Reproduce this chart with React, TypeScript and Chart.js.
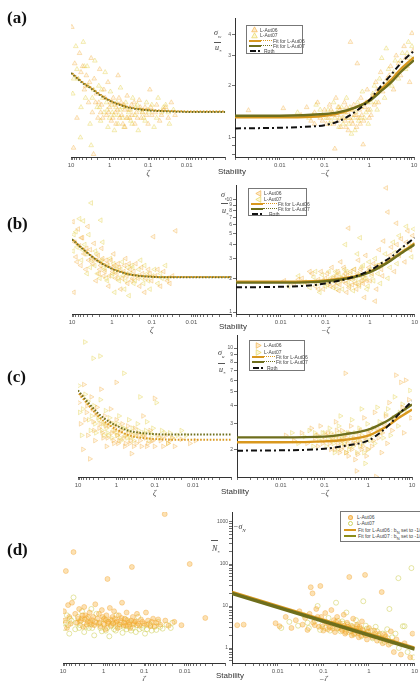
import React, { useEffect, useRef } from 'react';
import { Chart, registerables } from 'chart.js';
Chart.register(...registerables);

type P = [number, number];

// ---------- tick labels ----------
const xLabelsLeft = [10, 1, 0.1, 0.01];
const xLabelsRight = [0.01, 0.1, 1, 10];
const xDecades = [0.001, 0.01, 0.1, 1];
const subTicks = [1, 2, 3, 4, 5, 6, 7, 8, 9];
const aYTicks = [0.8, 0.9, 1, 2, 3, 4];
const aYLabels = [1, 2, 3, 4];
const bYTicks = [1, 2, 3, 4, 5, 6, 7, 8, 9, 10];
const bYLabels = [1, 2, 3, 4, 5, 6, 7, 8, 9, 10];
const cYTicks = [2, 3, 4, 5, 6, 7, 8, 9, 10];
const cYLabels = [2, 3, 4, 5, 6, 7, 8, 9, 10];
const dYDecades = [0.1, 1, 10, 100];
const dYLabels = [1, 10, 100, 1000];

// ---------- panel (a) ----------
const aLeft06: P[] = [[9.5,4.4],[8,2.7],[7,1.3],[6,3.1],[5,2.6],[4.5,1.9],[4,2.3],[3.5,1.6],[3,2.9],[2.8,1.4],[2.5,2.2],[2.2,1.8],[2,1.3],[1.8,2.5],[1.6,1.55],[1.4,1.9],[1.2,1.35],[1.1,2.1],[1,1.5],[0.9,1.25],[0.8,1.7],[0.7,1.4],[0.6,2.3],[0.55,1.3],[0.5,1.6],[0.45,1.2],[0.4,1.45],[0.35,1.75],[0.3,1.3],[0.27,1.55],[0.22,1.2],[0.2,1.4],[0.17,1.65],[0.15,1.3],[0.12,1.5],[0.1,1.2],[0.09,1.9],[0.08,1.35],[0.06,1.55],[0.05,1.25],[0.04,1.45],[0.03,1.3],[0.025,1.6],[0.02,1.35],[8.6,0.87],[2.6,0.8],
  [1.9,1.6],[1.7,1.4],[1.3,1.7],[1.05,1.4],[0.95,1.6],[0.82,1.3],[0.72,1.55],[0.62,1.45],[0.57,1.7],[0.48,1.35],[0.43,1.55],[0.36,1.3],[0.31,1.45],[0.26,1.35],[0.23,1.6],[0.19,1.3],[0.16,1.5],[0.14,1.4],[0.11,1.35],[0.085,1.5],[0.065,1.4],[0.045,1.35],[0.035,1.5],[3.3,2.1],[4.2,2.0],[5.5,2.4],[2.3,1.6],[1.5,1.3],[0.68,1.2],[0.4,1.15]];
const aLeft07: P[] = [[9,1.8],[7.5,3.4],[6.5,2.2],[5.5,1.5],[4.8,3.6],[4.2,1.7],[3.8,2.6],[3.2,1.2],[2.6,1.9],[2.4,2.8],[2.1,1.5],[1.9,2.0],[1.7,1.25],[1.5,1.7],[1.3,2.4],[1.15,1.45],[0.95,1.85],[0.85,1.4],[0.75,1.1],[0.65,1.6],[0.58,1.35],[0.52,1.95],[0.47,1.5],[0.42,1.15],[0.38,1.6],[0.32,1.4],[0.28,1.25],[0.25,1.7],[0.21,1.5],[0.18,1.1],[0.16,1.45],[0.13,1.3],[0.11,1.6],[0.095,1.4],[0.07,1.15],[0.055,1.7],[0.045,1.4],[0.035,1.55],[0.028,1.2],[0.022,1.45],[5.7,1.0],[3,0.9],
  [1.8,1.5],[1.6,1.9],[1.4,1.4],[1.2,1.6],[1.0,1.3],[0.88,1.55],[0.78,1.35],[0.68,1.5],[0.6,1.2],[0.53,1.45],[0.46,1.3],[0.39,1.5],[0.34,1.3],[0.29,1.45],[0.26,1.2],[0.22,1.35],[0.19,1.55],[0.14,1.4],[0.12,1.25],[0.1,1.45],[0.08,1.55],[0.06,1.3],[0.04,1.5],[0.03,1.4],[2.8,1.7],[3.6,2.0],[4.5,2.6],[7,2.5],[8.5,2.2],[1.1,1.15]];
const aRight06: P[] = [[0.002,1.44],[0.012,1.48],[0.03,1.35],[0.04,1.5],[0.05,1.25],[0.06,1.4],[0.07,1.6],[0.08,1.3],[0.1,1.45],[0.11,1.2],[0.13,1.55],[0.15,1.35],[0.17,0.86],[0.18,1.7],[0.2,1.25],[0.22,1.45],[0.25,1.3],[0.28,1.6],[0.3,1.15],[0.33,1.4],[0.38,3.6],[0.4,1.25],[0.45,1.55],[0.5,1.35],[0.54,2.7],[0.6,1.45],[0.65,1.7],[0.73,0.91],[0.8,1.5],[0.9,1.9],[1,1.3],[1.2,1.75],[1.4,2.1],[1.6,1.6],[1.8,2.4],[2,1.85],[2.5,2.2],[3,2.6],[3.5,1.9],[4,3.0],[5,2.3],[6,3.4],[7,2.6],[8,2.1],[9,4.05],[9.5,3.2],
  [0.12,1.3],[0.14,1.45],[0.16,1.2],[0.19,1.35],[0.21,1.5],[0.23,1.15],[0.26,1.4],[0.29,1.25],[0.31,1.5],[0.34,1.1],[0.36,1.3],[0.39,1.45],[0.43,1.2],[0.46,1.35],[0.52,1.15],[0.57,1.3],[0.63,1.2],[0.68,1.35],[0.75,1.25],[0.85,1.6],[0.95,1.45],[1.1,1.35],[1.3,1.55],[1.5,1.9],[2.2,2.0],[2.8,2.3],[4.5,2.7],[6.5,2.9],[0.09,1.25],[0.06,1.2]];
const aRight07: P[] = [[0.025,1.4],[0.045,1.3],[0.065,1.55],[0.09,1.35],[0.12,1.45],[0.14,1.25],[0.16,1.6],[0.19,1.4],[0.21,1.15],[0.24,1.5],[0.27,1.3],[0.31,1.7],[0.35,1.2],[0.42,1.45],[0.48,1.1],[0.55,1.6],[0.62,1.3],[0.7,1.85],[0.85,1.4],[0.95,1.2],[1.1,1.6],[1.3,2.0],[1.5,1.45],[1.7,2.2],[2.2,1.7],[2.7,2.5],[3.2,2.0],[3.8,2.8],[4.5,2.2],[5.5,3.1],[6.5,2.5],[7.5,3.6],[8.5,2.9],[2.4,3.3],[1.9,2.9],
  [0.11,1.3],[0.13,1.2],[0.15,1.4],[0.17,1.3],[0.2,1.5],[0.22,1.3],[0.26,1.2],[0.29,1.4],[0.33,1.3],[0.37,1.5],[0.4,1.05],[0.44,1.3],[0.5,1.4],[0.58,1.25],[0.66,1.5],[0.78,1.3],[0.9,1.6],[1.05,1.45],[1.2,1.8],[1.4,1.6],[1.8,1.95],[2.6,2.1],[3.5,2.4],[5,2.8],[7,3.1],[9,3.4],[0.08,1.45],[0.055,1.35]];
const aFitLeft06: P[] = [[10,2.4],[5,2.1],[3,1.95],[2,1.82],[1,1.65],[0.5,1.55],[0.3,1.5],[0.1,1.45],[0.03,1.43],[0.01,1.42],[0.001,1.42]];
const aFitLeft07: P[] = [[10,2.38],[5,2.08],[3,1.93],[2,1.8],[1,1.64],[0.5,1.54],[0.3,1.49],[0.1,1.44],[0.03,1.42],[0.01,1.41],[0.001,1.41]];
const aFitRight06: P[] = [[0.001,1.31],[0.01,1.31],[0.05,1.32],[0.1,1.34],[0.2,1.38],[0.5,1.5],[1,1.65],[2,1.95],[3,2.15],[5,2.5],[10,2.94]];
const aFitRight07: P[] = [[0.001,1.34],[0.01,1.34],[0.1,1.37],[0.2,1.4],[0.5,1.5],[1,1.63],[2,1.9],[3,2.08],[5,2.4],[10,2.82]];
const aRoth: P[] = [[0.001,1.13],[0.01,1.14],[0.05,1.16],[0.1,1.18],[0.2,1.24],[0.5,1.42],[1,1.65],[2,2.05],[3,2.3],[5,2.7],[10,3.2]];

// ---------- panel (b) ----------
const bLeft06: P[] = [[9.5,6.4],[8.5,4.2],[8,3.1],[7,5.5],[6,2.6],[5.5,4.6],[5,3.3],[4.5,2.4],[4,5.8],[3.5,3.6],[3,2.7],[2.8,4.1],[2.5,1.9],[2.2,3.2],[2,2.4],[1.8,3.7],[1.6,2.1],[1.4,2.9],[1.2,1.7],[1,2.5],[0.9,3.3],[0.8,2.0],[0.7,2.7],[0.6,1.6],[0.5,2.3],[0.45,3.0],[0.4,1.8],[0.35,2.4],[0.3,2.0],[0.25,2.7],[0.2,1.7],[0.17,2.2],[0.15,1.5],[0.12,2.4],[0.1,1.9],[0.09,4.7],[0.08,2.1],[0.06,1.7],[0.05,2.3],[0.04,1.9],[0.03,2.1],[0.025,5.3],[9,1.5],
  [2.4,2.9],[2.1,2.2],[1.9,2.6],[1.7,3.0],[1.5,2.3],[1.3,2.7],[1.15,2.1],[1.05,2.9],[0.95,2.3],[0.85,2.6],[0.75,2.2],[0.65,2.5],[0.55,2.0],[0.48,2.6],[0.42,2.1],[0.37,2.7],[0.32,1.9],[0.28,2.3],[0.22,2.0],[0.18,2.5],[0.14,2.0],[0.11,2.2],[3.2,3.0],[3.8,2.9],[4.3,3.7],[6.5,3.9],[7.5,2.8],[5.8,4.6],[0.07,2.4],[0.035,1.8]];
const bLeft07: P[] = [[9,4.9],[7.5,3.8],[6.5,6.8],[5.8,2.9],[4.8,4.0],[4.2,2.2],[3.8,4.9],[3.2,2.9],[2.6,3.5],[2.3,2.2],[1.9,2.8],[1.7,4.2],[1.5,2.4],[1.3,1.9],[1.1,3.0],[0.95,2.2],[0.85,1.5],[0.75,2.5],[0.65,1.9],[0.55,2.8],[0.48,1.6],[0.42,2.2],[0.37,1.4],[0.32,2.6],[0.28,1.8],[0.23,2.1],[0.19,2.9],[0.16,1.8],[0.13,2.2],[0.11,1.6],[0.085,2.4],[0.07,1.8],[0.055,2.0],[0.045,2.6],[3.3,9.4],[1.9,6.6],[5.2,6.5],
  [2.7,2.6],[2.4,3.3],[2.0,2.0],[1.8,2.9],[1.6,2.5],[1.4,2.0],[1.25,2.6],[1.0,2.1],[0.9,2.7],[0.8,2.3],[0.7,2.0],[0.6,2.4],[0.52,2.1],[0.45,1.9],[0.4,2.5],[0.34,2.2],[0.3,2.5],[0.26,1.9],[0.21,2.4],[0.17,2.0],[0.15,2.6],[0.12,1.9],[0.095,2.1],[3.5,2.5],[4.5,3.3],[5.5,3.6],[8,5.2],[9.5,3.5],[0.06,2.2],[0.04,2.0]];
const bRight06: P[] = [[0.012,1.9],[0.02,1.75],[0.03,2.0],[0.04,1.8],[0.05,2.2],[0.06,1.7],[0.07,1.95],[0.08,2.3],[0.09,1.6],[0.1,2.0],[0.12,1.8],[0.14,2.5],[0.16,1.7],[0.18,2.1],[0.2,1.55],[0.22,2.8],[0.25,1.9],[0.28,2.2],[0.3,1.5],[0.33,5.6],[0.35,2.0],[0.4,1.75],[0.45,2.4],[0.5,1.6],[0.55,2.9],[0.6,2.1],[0.7,1.8],[0.8,3.2],[0.9,2.3],[1,1.9],[1.2,2.7],[1.4,1.6],[1.6,3.6],[1.8,2.4],[2,4.3],[2.3,12.8],[2.5,2.9],[2.5,7.8],[3,3.8],[3.5,2.3],[3.9,6.2],[4.5,3.2],[5,4.5],[6,2.8],[7,5.3],[8,3.6],[9,4.8],[1.3,1.25],[0.75,1.35],
  [0.11,2.2],[0.13,1.7],[0.15,2.0],[0.17,1.85],[0.19,2.3],[0.21,1.75],[0.23,2.0],[0.26,2.5],[0.29,1.8],[0.31,2.1],[0.34,1.65],[0.37,2.3],[0.42,2.0],[0.47,1.8],[0.52,2.2],[0.57,1.75],[0.62,2.4],[0.67,1.9],[0.72,2.15],[0.85,1.9],[0.95,2.5],[1.1,2.2],[1.5,2.6],[1.9,2.1],[2.8,3.2],[4,4.0],[6.5,4.2],[0.07,1.6],[0.045,2.3],[0.025,1.95]];
const bRight07: P[] = [[0.015,1.7],[0.025,2.1],[0.035,1.85],[0.045,1.65],[0.055,2.05],[0.065,1.8],[0.075,1.5],[0.085,2.15],[0.11,1.75],[0.13,2.0],[0.15,1.65],[0.17,2.3],[0.19,1.8],[0.21,2.0],[0.24,1.6],[0.27,2.4],[0.32,1.85],[0.37,2.2],[0.42,1.55],[0.48,2.0],[0.52,3.3],[0.58,1.7],[0.65,2.5],[0.75,2.0],[0.85,1.6],[0.95,2.8],[1.1,2.1],[1.3,3.0],[1.5,2.2],[1.7,1.8],[2.2,3.3],[2.8,2.5],[3.3,4.2],[4,2.7],[5.5,3.7],[6.5,5.8],[8.5,3.1],[0.28,4.0],[0.6,4.6],
  [0.1,1.7],[0.12,2.3],[0.14,1.9],[0.16,2.1],[0.18,1.6],[0.2,2.2],[0.22,1.9],[0.25,2.1],[0.3,2.3],[0.35,1.7],[0.39,1.95],[0.44,2.4],[0.5,1.8],[0.55,2.15],[0.63,1.9],[0.7,2.6],[0.8,2.0],[0.9,1.7],[1.0,2.4],[1.2,1.9],[1.4,2.6],[1.8,2.7],[2.5,2.0],[3.6,3.4],[4.5,4.8],[7.5,4.0],[9.5,5.5],[0.09,1.9],[0.06,2.3],[0.03,1.8]];
const bFitLeft06: P[] = [[10,4.5],[5,3.6],[3,3.1],[2,2.8],[1,2.45],[0.5,2.25],[0.3,2.15],[0.1,2.07],[0.03,2.05],[0.001,2.05]];
const bFitLeft07: P[] = [[10,4.45],[5,3.57],[3,3.08],[2,2.78],[1,2.43],[0.5,2.23],[0.3,2.14],[0.1,2.06],[0.03,2.04],[0.001,2.04]];
const bFitRight06: P[] = [[0.001,1.86],[0.01,1.86],[0.05,1.88],[0.1,1.91],[0.2,1.97],[0.5,2.1],[1,2.3],[2,2.65],[3,2.95],[5,3.4],[10,4.1]];
const bFitRight07: P[] = [[0.001,1.83],[0.01,1.83],[0.05,1.85],[0.1,1.88],[0.2,1.94],[0.5,2.07],[1,2.27],[2,2.62],[3,2.9],[5,3.35],[10,4.0]];
const bRoth: P[] = [[0.001,1.66],[0.01,1.68],[0.05,1.73],[0.1,1.8],[0.2,1.9],[0.5,2.1],[1,2.35],[2,2.8],[3,3.1],[5,3.7],[10,4.6]];

// ---------- panel (c) ----------
const cLeft06: P[] = [[9.5,4.2],[8.5,3.0],[7.4,2.0],[7,5.6],[6,3.6],[5.5,2.5],[4.9,1.72],[4.5,4.6],[4,3.1],[3.6,2.3],[3.2,3.9],[2.8,2.8],[2.5,5.2],[2.2,2.4],[2,3.4],[1.8,2.1],[1.6,2.9],[1.4,3.8],[1.2,2.3],[1.1,2.7],[1,3.2],[0.9,2.2],[0.8,2.6],[0.7,3.0],[0.6,2.1],[0.55,2.5],[0.5,2.9],[0.45,2.2],[0.4,1.87],[0.37,2.5],[0.33,2.8],[0.3,2.2],[0.25,2.5],[0.22,2.1],[0.2,3.4],[0.17,2.4],[0.15,2.2],[0.13,2.7],[0.11,2.3],[0.1,2.1],[0.085,2.5],[0.07,2.3],[0.06,2.1],[0.05,2.5],[0.04,2.3],[0.03,2.1],[0.02,2.35],[0.012,2.2],[0.0085,2.3],[0.1,4.5],[1,5.8],
  [2.6,3.0],[2.3,2.6],[1.9,2.9],[1.7,2.4],[1.5,3.1],[1.3,2.6],[1.15,2.2],[1.05,2.9],[0.95,2.5],[0.85,2.3],[0.75,2.7],[0.65,2.4],[0.57,2.2],[0.48,2.6],[0.42,2.3],[0.35,2.1],[0.28,2.6],[0.24,2.3],[0.19,2.5],[0.16,2.1],[0.12,2.3],[3.4,3.5],[3.8,2.7],[4.2,3.8],[5.8,4.0],[6.5,3.2],[8,4.7],[0.065,2.4],[0.045,2.2],[0.035,2.4]];
const cLeft07: P[] = [[9,3.6],[8,2.5],[6.6,11.0],[6.5,4.8],[5.2,3.2],[4.7,2.7],[4,8.5],[3.8,4.0],[3.4,2.6],[3,3.3],[2.65,8.8],[2.6,4.4],[2.3,3.0],[2.1,2.5],[1.9,3.7],[1.7,2.6],[1.5,3.3],[1.3,2.4],[1.15,3.0],[0.95,2.5],[0.85,3.4],[0.75,2.3],[0.63,6.7],[0.62,2.8],[0.52,2.4],[0.47,3.2],[0.42,2.6],[0.35,2.3],[0.28,3.0],[0.24,4.6],[0.19,2.6],[0.16,3.1],[0.14,2.3],[0.12,2.5],[0.09,4.2],[0.075,2.4],[0.055,2.6],[0.045,2.2],[0.035,2.4],[0.015,2.5],
  [2.8,3.2],[2.4,2.7],[2.0,3.0],[1.8,2.8],[1.6,2.5],[1.4,3.0],[1.2,2.7],[1.0,2.6],[0.9,3.0],[0.8,2.4],[0.7,2.8],[0.6,2.5],[0.5,2.7],[0.45,2.4],[0.38,2.8],[0.32,2.5],[0.26,2.7],[0.21,2.5],[0.17,2.7],[0.13,2.6],[0.11,2.8],[3.6,3.0],[4.4,3.4],[5.5,4.3],[7.5,3.8],[9.5,5.5],[0.065,2.7],[0.04,2.6],[0.025,2.5],[0.02,2.7]];
const cRight06: P[] = [[0.013,2.5],[0.02,2.3],[0.03,2.6],[0.04,2.2],[0.05,2.8],[0.06,2.4],[0.07,2.1],[0.08,2.9],[0.1,2.3],[0.12,2.6],[0.14,2.0],[0.16,2.5],[0.18,3.1],[0.2,2.2],[0.22,1.9],[0.25,2.7],[0.28,2.1],[0.3,6.7],[0.32,2.4],[0.35,1.8],[0.4,2.9],[0.45,2.2],[0.5,1.7],[0.54,1.42],[0.6,2.5],[0.7,2.0],[0.8,3.3],[0.9,1.8],[1,2.6],[1.2,2.1],[1.4,3.6],[1.5,1.3],[1.7,2.4],[2,1.9],[2.3,3.0],[2.7,2.2],[3,4.2],[3.5,2.7],[4.3,6.5],[5,3.4],[5.6,5.8],[6.5,2.6],[7.2,6.0],[8.5,4.4],[9.5,3.3],
  [0.11,2.5],[0.13,2.2],[0.15,2.4],[0.17,2.0],[0.19,2.7],[0.21,2.4],[0.24,2.0],[0.26,2.3],[0.29,2.5],[0.31,1.9],[0.34,2.2],[0.37,2.6],[0.42,2.0],[0.47,2.4],[0.52,2.2],[0.57,1.85],[0.63,2.3],[0.67,2.7],[0.75,2.1],[0.85,2.4],[0.95,2.0],[1.1,2.7],[1.3,2.3],[1.6,2.8],[2.1,2.6],[2.5,3.4],[3.8,3.3],[6,3.9],[0.09,2.2],[0.07,2.5]];
const cRight07: P[] = [[0.018,2.6],[0.025,2.2],[0.035,2.45],[0.045,2.7],[0.055,2.1],[0.065,2.5],[0.075,2.3],[0.09,2.6],[0.11,2.1],[0.13,2.8],[0.15,2.3],[0.17,1.9],[0.19,2.5],[0.21,2.9],[0.24,2.2],[0.27,2.5],[0.31,1.9],[0.34,2.6],[0.38,2.1],[0.42,3.2],[0.48,2.3],[0.55,1.9],[0.62,2.8],[0.75,2.2],[0.85,1.6],[0.95,3.0],[1.1,2.3],[1.3,2.8],[1.6,3.9],[1.9,2.6],[2.5,3.5],[3.2,2.5],[4,4.6],[4.8,2.9],[6,4.1],[7.5,3.6],[9,5.1],[0.7,3.8],[0.23,3.4],
  [0.1,2.6],[0.12,2.4],[0.14,2.6],[0.16,2.2],[0.18,2.4],[0.2,2.0],[0.22,2.6],[0.25,2.4],[0.28,2.2],[0.3,2.6],[0.33,2.3],[0.36,2.0],[0.4,2.4],[0.45,2.1],[0.5,2.6],[0.58,2.3],[0.65,2.1],[0.72,2.5],[0.8,1.9],[0.9,2.3],[1.0,2.0],[1.2,2.5],[1.4,2.2],[1.8,3.1],[2.2,2.4],[2.8,3.8],[3.6,3.2],[5.2,3.6],[0.085,2.4],[0.06,2.6]];
const cFitLeft06: P[] = [[10,4.95],[5,3.95],[3,3.4],[2,3.1],[1,2.75],[0.5,2.52],[0.3,2.43],[0.1,2.36],[0.03,2.33],[0.001,2.33]];
const cFitLeft07: P[] = [[10,5.1],[5,4.1],[3,3.55],[2,3.25],[1,2.92],[0.5,2.7],[0.3,2.62],[0.1,2.55],[0.03,2.53],[0.001,2.53]];
const cFitRight06: P[] = [[0.001,2.24],[0.01,2.24],[0.1,2.27],[0.3,2.33],[1,2.49],[2,2.75],[3,2.95],[5,3.3],[10,3.77]];
const cFitRight07: P[] = [[0.001,2.42],[0.01,2.42],[0.1,2.45],[0.3,2.55],[1,2.74],[2,3.0],[3,3.2],[5,3.55],[10,4.08]];
const cRoth: P[] = [[0.001,1.96],[0.01,1.97],[0.1,2.02],[0.3,2.12],[1,2.3],[2,2.65],[3,2.95],[5,3.5],[10,4.3]];

// ---------- panel (d) ----------
const dLeft06: P[] = [[9.5,7.5],[9,4.5],[8.5,68],[8,3.0],[7.5,10.5],[7,5.5],[6.5,3.8],[6,12],[5.5,192],[5,6.5],[4.5,4.0],[4,8.5],[3.5,5.0],[3.2,3.2],[3,9.5],[2.8,6.0],[2.5,4.3],[2.2,7.0],[2,3.6],[1.8,5.5],[1.6,11],[1.5,4.0],[1.3,6.5],[1.2,3.3],[1.1,8.0],[1,4.8],[0.9,2.8],[0.85,6.0],[0.8,44],[0.75,4.2],[0.7,9.0],[0.65,3.5],[0.6,5.5],[0.55,7.5],[0.5,4.0],[0.45,3.0],[0.42,6.0],[0.38,4.5],[0.35,12],[0.32,3.5],[0.3,5.0],[0.27,7.0],[0.24,4.0],[0.22,3.0],[0.2,85],[0.19,5.5],[0.17,4.2],[0.15,6.5],[0.13,3.4],[0.12,4.8],[0.1,3.8],[0.09,7.0],[0.08,4.5],[0.07,3.3],[0.06,5.0],[0.05,4.0],[0.04,3.6],[0.03,4.5],[0.025,3.4],[0.018,4.2],[0.012,3.5],[0.0031,5.2],[0.031,1540],[0.0075,100],
  [4.2,5.0],[3.8,4.2],[3.3,6.0],[2.9,4.8],[2.6,3.6],[2.4,5.5],[2.1,4.2],[1.9,4.6],[1.7,3.5],[1.4,5.0],[1.25,4.0],[1.05,5.5],[0.95,3.6],[0.88,4.6],[0.78,3.8],[0.68,4.8],[0.58,3.9],[0.52,5.0],[0.47,4.3],[0.4,3.6],[0.36,5.2],[0.31,4.0],[0.28,3.4],[0.26,4.6],[0.23,3.6],[0.21,4.5],[0.18,3.6],[0.16,4.3],[0.14,3.8],[0.11,4.2],[0.085,3.6],[0.065,4.2],[0.055,3.3],[0.045,4.8]];
const dLeft07: P[] = [[9.2,3.0],[8,6.0],[7,2.2],[6.2,4.5],[5.5,16],[5,2.8],[4.3,5.5],[3.8,3.5],[3.4,7.5],[3,2.4],[2.6,5.0],[2.3,3.0],[2,8.5],[1.7,2.0],[1.5,6.5],[1.3,3.8],[1.1,2.5],[0.95,5.0],[0.82,3.0],[0.72,1.9],[0.62,4.5],[0.55,2.8],[0.48,6.0],[0.4,3.2],[0.34,2.3],[0.29,4.8],[0.25,3.3],[0.21,2.6],[0.18,3.9],[0.16,2.4],[0.14,5.5],[0.11,3.0],[0.095,2.2],[0.075,3.8],[0.065,2.6],[0.055,3.2],[0.045,4.2],[0.035,2.9],[0.028,3.6],[0.022,3.0],[0.02,4.0],
  [8.5,4.0],[7.5,3.5],[6.8,5.0],[4.8,4.0],[4,3.0],[3.6,4.5],[2.7,3.2],[2.2,4.0],[1.9,3.0],[1.6,4.2],[1.2,3.0],[1.0,3.8],[0.88,2.6],[0.76,4.2],[0.66,3.3],[0.58,3.8],[0.5,2.6],[0.44,3.6],[0.37,4.0],[0.32,3.2],[0.27,2.8],[0.23,4.2],[0.19,3.0],[0.15,3.5],[0.13,2.8],[0.1,3.4],[0.085,2.8],[0.07,3.5],[0.05,2.7],[0.04,3.2]];
const dRight06: P[] = [[0.0013,3.5],[0.0018,3.6],[0.009,3.9],[0.011,3.3],[0.015,5.5],[0.02,3.0],[0.025,4.6],[0.03,7.5],[0.035,3.6],[0.04,5.2],[0.045,2.7],[0.05,6.5],[0.053,28],[0.058,20],[0.06,4.0],[0.07,8.5],[0.08,3.2],[0.086,30],[0.09,5.5],[0.1,2.6],[0.11,6.8],[0.12,4.0],[0.14,3.1],[0.15,8.0],[0.17,4.6],[0.18,2.4],[0.2,5.5],[0.22,3.5],[0.25,2.8],[0.28,6.2],[0.3,2.2],[0.33,4.0],[0.37,49],[0.38,3.0],[0.42,2.0],[0.45,5.0],[0.5,2.6],[0.55,3.6],[0.6,1.8],[0.65,2.9],[0.7,4.3],[0.8,2.2],[0.82,55],[0.9,1.6],[1,3.0],[1.1,2.0],[1.3,2.6],[1.5,1.5],[1.7,2.2],[1.9,21.5],[2,1.3],[2.3,1.9],[2.7,1.2],[3,2.5],[3.5,0.8],[4,1.6],[5,0.7],[6,1.3],[8,0.6],[9,2.2],
  [0.13,3.8],[0.16,2.9],[0.19,4.2],[0.21,3.0],[0.23,3.9],[0.26,2.6],[0.29,3.4],[0.31,2.4],[0.35,3.2],[0.4,2.5],[0.43,3.3],[0.48,2.2],[0.52,2.9],[0.58,2.3],[0.62,3.2],[0.68,2.0],[0.75,2.6],[0.85,2.0],[0.95,2.5],[1.2,1.8],[1.4,2.2],[1.8,1.7],[2.2,2.1],[2.5,1.5],[3.3,1.4],[0.065,3.5],[0.075,5.5],[0.095,3.2],[0.105,4.3],[0.125,2.8]];
const dRight07: P[] = [[0.012,3.0],[0.018,4.2],[0.028,3.4],[0.038,6.0],[0.048,3.0],[0.065,4.4],[0.075,10],[0.095,3.6],[0.13,5.2],[0.16,3.3],[0.19,12],[0.21,4.4],[0.24,2.5],[0.27,3.8],[0.32,7.0],[0.36,2.4],[0.4,3.4],[0.47,2.1],[0.52,4.6],[0.58,2.8],[0.68,1.9],[0.75,13],[0.85,3.4],[0.95,2.4],[1.2,1.7],[1.4,3.2],[1.6,2.0],[2.2,1.4],[2.5,2.8],[2.8,8.5],[3.2,1.8],[4.4,46],[4.5,1.0],[5.5,3.3],[6,3.3],[7,0.8],[8.5,80],[9.5,0.6],
  [0.14,2.6],[0.17,3.8],[0.2,2.9],[0.22,3.2],[0.26,4.3],[0.3,2.9],[0.34,3.6],[0.38,2.6],[0.44,3.0],[0.5,2.3],[0.55,3.3],[0.62,2.5],[0.72,2.7],[0.8,2.1],[0.9,2.9],[1.1,2.6],[1.3,1.9],[1.5,2.5],[1.8,1.5],[2.0,2.2],[2.6,1.7],[3,1.3],[3.8,2.2],[0.085,2.7],[0.11,3.0],[0.045,4.0]];
const dFitRight06: P[] = [[0.001,21],[10,0.99]];
const dFitRight07: P[] = [[0.001,20],[10,0.95]];

// ---------- styling ----------
const SERIF = "'Liberation Serif', 'Times New Roman', serif";
const SANS = "'Liberation Sans', Arial, sans-serif";
const C06 = '#D9981E';
const C07 = '#6E6E1C';
const XH = 22;
const YW = 24;
const W = 420;

Chart.defaults.font.family = SANS;

const toXY = (d: P[]) => d.map(([x, y]) => ({ x, y }));

function ptsDs(d: P[], kind: '06' | '07', shape: 'up' | 'left' | 'right' | 'circle') {
  const isC = shape === 'circle';
  const rot = shape === 'left' ? -90 : shape === 'right' ? 90 : 0;
  let bg: string, bd: string;
  if (isC) {
    bg = kind === '06' ? 'rgba(248,176,56,0.38)' : 'rgba(0,0,0,0)';
    bd = kind === '06' ? 'rgba(240,160,40,0.45)' : 'rgba(205,205,80,0.65)';
  } else {
    bg = kind === '06' ? 'rgba(250,195,100,0.16)' : 'rgba(245,232,140,0.16)';
    bd = kind === '06' ? 'rgba(240,168,50,0.42)' : 'rgba(228,210,80,0.5)';
  }
  return {
    data: toXY(d), showLine: false,
    pointStyle: isC ? 'circle' : 'triangle', pointRotation: rot,
    pointRadius: isC ? 2.5 : 2.7, pointBorderWidth: 0.8,
    pointBackgroundColor: bg, pointBorderColor: bd,
    backgroundColor: bg, borderColor: bd,
  };
}

function lineDs(d: P[], color: string, width: number, dash: number[] = [], offset = 0, smooth = true) {
  return {
    data: toXY(d), showLine: true, pointRadius: 0, borderColor: color, backgroundColor: color,
    borderWidth: width, borderDash: dash, borderDashOffset: offset,
    cubicInterpolationMode: smooth ? 'monotone' : 'default', fill: false,
  };
}

const near = (v: number, list: number[]) => list.some((l) => Math.abs(v - l) / l < 1e-6);

function ticksFrom(decades: number[], lo: number, hi: number, extra: number[]) {
  const out: number[] = [];
  decades.forEach((d) => subTicks.forEach((k) => { const v = d * k; if (v >= lo * 0.9999 && v <= hi * 1.0001) out.push(v); }));
  extra.forEach((v) => out.push(v));
  return out;
}

interface Spec {
  side: 'left' | 'right';
  area: [number, number, number, number];
  yMin: number; yMax: number;
  yTicks: number[]; yLabels: number[];
  xTitle: string;
  datasets: any[];
}

function geom(s: Spec) {
  const [l, t, r, b] = s.area;
  const cy = t - 5;
  const ch = b - t + 5 + XH;
  if (s.side === 'left') {
    return { cx: 0, cy, cw: r + 3, ch, pad: { left: l, top: 5, right: 3, bottom: 0 } };
  }
  const cx = l - YW;
  return { cx, cy, cw: W - cx, ch, pad: { left: 0, top: 5, right: W - r, bottom: 0 } };
}

function config(s: Spec): any {
  const g = geom(s);
  const isLeft = s.side === 'left';
  const xTicks = ticksFrom(xDecades, 0.001, 10, [10]);
  const xLab = isLeft ? xLabelsLeft : xLabelsRight;
  const gridOpt = { display: true, drawOnChartArea: false, drawTicks: true, tickLength: 3, color: '#333', lineWidth: 0.7 };
  return {
    type: 'scatter',
    data: { datasets: s.datasets },
    options: {
      responsive: false, maintainAspectRatio: false, animation: false, devicePixelRatio: 1, events: [],
      layout: { padding: g.pad },
      plugins: { legend: { display: false }, tooltip: { enabled: false } },
      scales: {
        x: {
          type: 'logarithmic', reverse: isLeft, min: 0.001, max: 10,
          afterBuildTicks: (sc: any) => { sc.ticks = xTicks.map((v) => ({ value: v })); },
          afterFit: (sc: any) => { sc.height = XH; },
          ticks: { autoSkip: false, maxRotation: 0, minRotation: 0, padding: 2, color: '#555', font: { size: 6 },
            callback: (v: number) => (near(v, xLab) ? String(v) : '') },
          grid: gridOpt,
          border: { display: true, color: '#333', width: 1 },
          title: { display: true, text: s.xTitle, color: '#444', padding: 0, font: { size: 8, style: 'italic', family: SERIF } },
        },
        y: {
          type: 'logarithmic', min: s.yMin, max: s.yMax, display: !isLeft,
          afterBuildTicks: (sc: any) => { sc.ticks = s.yTicks.map((v) => ({ value: v })); },
          afterFit: (sc: any) => { sc.width = YW; },
          ticks: { autoSkip: false, padding: 1, color: '#555', font: { size: 5 },
            callback: (v: number) => (near(v, s.yLabels) ? String(Math.round(v)) : '') },
          grid: gridOpt,
          border: { display: true, color: '#333', width: 1 },
        },
      },
    },
  };
}

function ChartBox({ spec }: { spec: Spec }) {
  const ref = useRef<HTMLCanvasElement>(null);
  const g = geom(spec);
  useEffect(() => {
    const c = new Chart(ref.current as HTMLCanvasElement, config(spec));
    return () => c.destroy();
  }, []);
  return (
    <canvas ref={ref} width={g.cw} height={g.ch}
      style={{ position: 'absolute', left: g.cx, top: g.cy, width: g.cw, height: g.ch }} />
  );
}

// ---------- specs ----------
type Shape = 'up' | 'left' | 'right';
function leftSets(p06: P[], p07: P[], f06: P[], f07: P[], shape: Shape) {
  return [
    lineDs(f07, C07, 2, [1.6, 1.6], 0),
    lineDs(f06, C06, 2, [1.6, 1.6], 1.6),
    ptsDs(p06, '06', shape),
    ptsDs(p07, '07', shape),
  ];
}
function rightSets(p06: P[], p07: P[], f06: P[], f07: P[], roth: P[], shape: Shape) {
  return [
    lineDs(roth, '#111', 2, [6, 3, 2, 3]),
    lineDs(f07, C07, 2.4),
    lineDs(f06, C06, 2.4),
    ptsDs(p06, '06', shape),
    ptsDs(p07, '07', shape),
  ];
}

const aY = { yMin: 0.77, yMax: 4.97, yTicks: aYTicks, yLabels: aYLabels };
const bY = { yMin: 0.96, yMax: 13.6, yTicks: bYTicks, yLabels: bYLabels };
const cY = { yMin: 1.29, yMax: 12.3, yTicks: cYTicks, yLabels: cYLabels };
const dY = { yMin: 0.44, yMax: 1730, yTicks: ticksFrom(dYDecades, 0.44, 1730, [1000]), yLabels: dYLabels };

const specs: Spec[] = [
  { side: 'left', area: [47, 18, 227, 157], ...aY, xTitle: 'ζ', datasets: leftSets(aLeft06, aLeft07, aFitLeft06, aFitLeft07, 'up') },
  { side: 'right', area: [235, 18, 414, 157], ...aY, xTitle: '−ζ', datasets: rightSets(aRight06, aRight07, aFitRight06, aFitRight07, aRoth, 'up') },
  { side: 'left', area: [48, 185, 233, 314], ...bY, xTitle: 'ζ', datasets: leftSets(bLeft06, bLeft07, bFitLeft06, bFitLeft07, 'left') },
  { side: 'right', area: [236, 185, 418, 314], ...bY, xTitle: '−ζ', datasets: rightSets(bRight06, bRight07, bFitRight06, bFitRight07, bRoth, 'left') },
  { side: 'left', area: [54, 335, 233, 477], ...cY, xTitle: 'ζ', datasets: leftSets(cLeft06, cLeft07, cFitLeft06, cFitLeft07, 'right') },
  { side: 'right', area: [237, 335, 412, 477], ...cY, xTitle: '−ζ', datasets: rightSets(cRight06, cRight07, cFitRight06, cFitRight07, cRoth, 'right') },
  { side: 'left', area: [39, 512, 227, 663], ...dY, xTitle: 'ζ', datasets: [ptsDs(dLeft06, '06', 'circle'), ptsDs(dLeft07, '07', 'circle')] },
  { side: 'right', area: [232, 512, 416, 663], ...dY, xTitle: '−ζ', datasets: [
    lineDs(dFitRight07, C07, 3.5, [], 0, false),
    lineDs(dFitRight06, C06, 3.5, [], 0, false),
    ptsDs(dRight06, '06', 'circle'), ptsDs(dRight07, '07', 'circle')] },
];

// ---------- HTML text pieces ----------
const abs = (l: number, t: number, extra: React.CSSProperties = {}): React.CSSProperties => ({ position: 'absolute', left: l, top: t, ...extra });

function PanelLabel({ text, cy }: { text: string; cy: number }) {
  return <div style={abs(7, cy - 10, { font: `bold 17px ${SERIF}`, lineHeight: '20px', color: '#111' })}>{text}</div>;
}
function Stability({ cx, cy }: { cx: number; cy: number }) {
  return <div style={abs(cx - 25, cy - 5, { width: 50, textAlign: 'center', font: `8px ${SANS}`, lineHeight: '10px', color: '#333' })}>Stability</div>;
}
function Frac({ numX, denX, numY, barY, denY, num, nsub }: { numX: number; denX: number; numY: number; barY: number; denY: number; num: string; nsub: string }) {
  const f = `italic 8px ${SERIF}`;
  return (
    <>
      <div style={abs(numX, numY - 5, { font: f, lineHeight: '10px', color: '#333', whiteSpace: 'nowrap' })}>{num}<sub style={{ fontSize: 5 }}>{nsub}</sub></div>
      <div style={abs(denX - 1, barY, { width: 7, borderTop: '0.8px solid #555' })} />
      <div style={abs(denX, denY - 5, { font: f, lineHeight: '10px', color: '#333', whiteSpace: 'nowrap' })}>{nsub === 'N' ? 'N' : 'u'}<sub style={{ fontSize: 5 }}>*</sub></div>
    </>
  );
}

function Tri({ x, y, rot, fill, stroke }: { x: number; y: number; rot: number; fill: string; stroke: string }) {
  return (
    <svg width={7} height={7} style={abs(x - 3.5, y - 3.5)}>
      <polygon points="3.5,0.8 6.3,5.8 0.7,5.8" transform={`rotate(${rot} 3.5 3.5)`} fill={fill} stroke={stroke} strokeWidth={0.7} />
    </svg>
  );
}
function Seg({ x, y, w, c, lw, style = 'solid' }: { x: number; y: number; w: number; c: string; lw: number; style?: string }) {
  return <div style={abs(x, y - lw / 2, { width: w, borderTop: `${lw}px ${style} ${c}` })} />;
}
const legText: React.CSSProperties = { font: `5px ${SANS}`, lineHeight: '6px', color: '#444', whiteSpace: 'nowrap' };
function Txt({ x, y, children }: { x: number; y: number; children: React.ReactNode }) {
  return <div style={abs(x, y - 3, legText)}>{children}</div>;
}

function TriLegend({ x, y, w, h, rows, mX, pX, fX, rot }: { x: number; y: number; w: number; h: number; rows: number[]; mX: number; pX: number; fX: number; rot: number }) {
  return (
    <div style={abs(x, y, { width: w, height: h, border: '0.7px solid #777', background: 'rgba(255,255,255,0.85)', boxSizing: 'border-box' })}>
      <Tri x={mX} y={rows[0]} rot={rot} fill="rgba(250,195,100,0.35)" stroke="rgba(240,165,45,0.8)" />
      <Txt x={pX} y={rows[0]}>L-Aut06</Txt>
      <Tri x={mX} y={rows[1]} rot={rot} fill="rgba(245,232,140,0.35)" stroke="rgba(228,210,80,0.9)" />
      <Txt x={pX} y={rows[1]}>L-Aut07</Txt>
      <Seg x={2} y={rows[2]} w={12} c={C06} lw={2} />
      <Seg x={14} y={rows[2]} w={fX - 15} c={C06} lw={1.5} style="dotted" />
      <Txt x={fX} y={rows[2]}>Fit for L-Aut06</Txt>
      <Seg x={2} y={rows[3]} w={12} c={C07} lw={2} />
      <Seg x={14} y={rows[3]} w={fX - 15} c={C07} lw={1.5} style="dotted" />
      <Txt x={fX} y={rows[3]}>Fit for L-Aut07</Txt>
      <Seg x={3} y={rows[4]} w={6} c="#111" lw={2} />
      <Seg x={11} y={rows[4]} w={2} c="#111" lw={2} />
      <Txt x={fX - 9} y={rows[4]}>Roth</Txt>
    </div>
  );
}

function CircLegend() {
  const rows = [5, 11, 18, 24];
  return (
    <div style={abs(340, 511, { width: 100, height: 31, border: '0.7px solid #777', background: '#fff', boxSizing: 'border-box' })}>
      <div style={abs(7, rows[0] - 2.5, { width: 5, height: 5, borderRadius: 3, background: 'rgba(248,176,56,0.5)', border: '0.7px solid rgba(240,160,40,0.7)', boxSizing: 'border-box' })} />
      <Txt x={16} y={rows[0]}>L-Aut06</Txt>
      <div style={abs(7, rows[1] - 2.5, { width: 5, height: 5, borderRadius: 3, border: '0.8px solid rgba(200,205,80,0.9)', boxSizing: 'border-box' })} />
      <Txt x={16} y={rows[1]}>L-Aut07</Txt>
      <Seg x={3} y={rows[2]} w={12} c={C06} lw={2.5} />
      <Txt x={17} y={rows[2]}>Fit for L-Aut06 : b<sub style={{ fontSize: 4 }}>N</sub> set to -1/3</Txt>
      <Seg x={3} y={rows[3]} w={12} c="#8C8C18" lw={2.5} />
      <Txt x={17} y={rows[3]}>Fit for L-Aut07 : b<sub style={{ fontSize: 4 }}>N</sub> set to -1/3</Txt>
    </div>
  );
}

export default function App() {
  useEffect(() => { document.body.style.margin = '0'; document.body.style.background = '#fff'; }, []);
  return (
    <div style={{ position: 'absolute', left: 0, top: 0, width: W, height: 681, overflow: 'hidden', background: '#fff' }}>
      {specs.map((s, i) => <ChartBox key={i} spec={s} />)}
      <PanelLabel text="(a)" cy={18} />
      <PanelLabel text="(b)" cy={224} />
      <PanelLabel text="(c)" cy={377} />
      <PanelLabel text="(d)" cy={550} />
      <Stability cx={232} cy={172} />
      <Stability cx={233} cy={327} />
      <Stability cx={235} cy={492} />
      <Stability cx={230} cy={676} />
      <Frac numX={214} denX={215} numY={33} barY={42} denY={48} num="σ" nsub="w" />
      <Frac numX={221} denX={222} numY={195} barY={203} denY={211} num="σ" nsub="v" />
      <Frac numX={218} denX={219} numY={353} barY={363} denY={370} num="σ" nsub="u" />
      <Frac numX={233} denX={212} numY={527} barY={540} denY={549} num="−σ" nsub="N" />
      <TriLegend x={246} y={25} w={57} h={29} rows={[3.5, 9, 14.5, 19.5, 25]} mX={7} pX={13} fX={26} rot={0} />
      <TriLegend x={248} y={188} w={59} h={28} rows={[4, 10, 15, 20, 25]} mX={9} pX={15} fX={29} rot={-90} />
      <TriLegend x={249} y={340} w={56} h={31} rows={[4, 11, 16, 21, 27]} mX={8} pX={14} fX={26} rot={90} />
      <CircLegend />
    </div>
  );
}
